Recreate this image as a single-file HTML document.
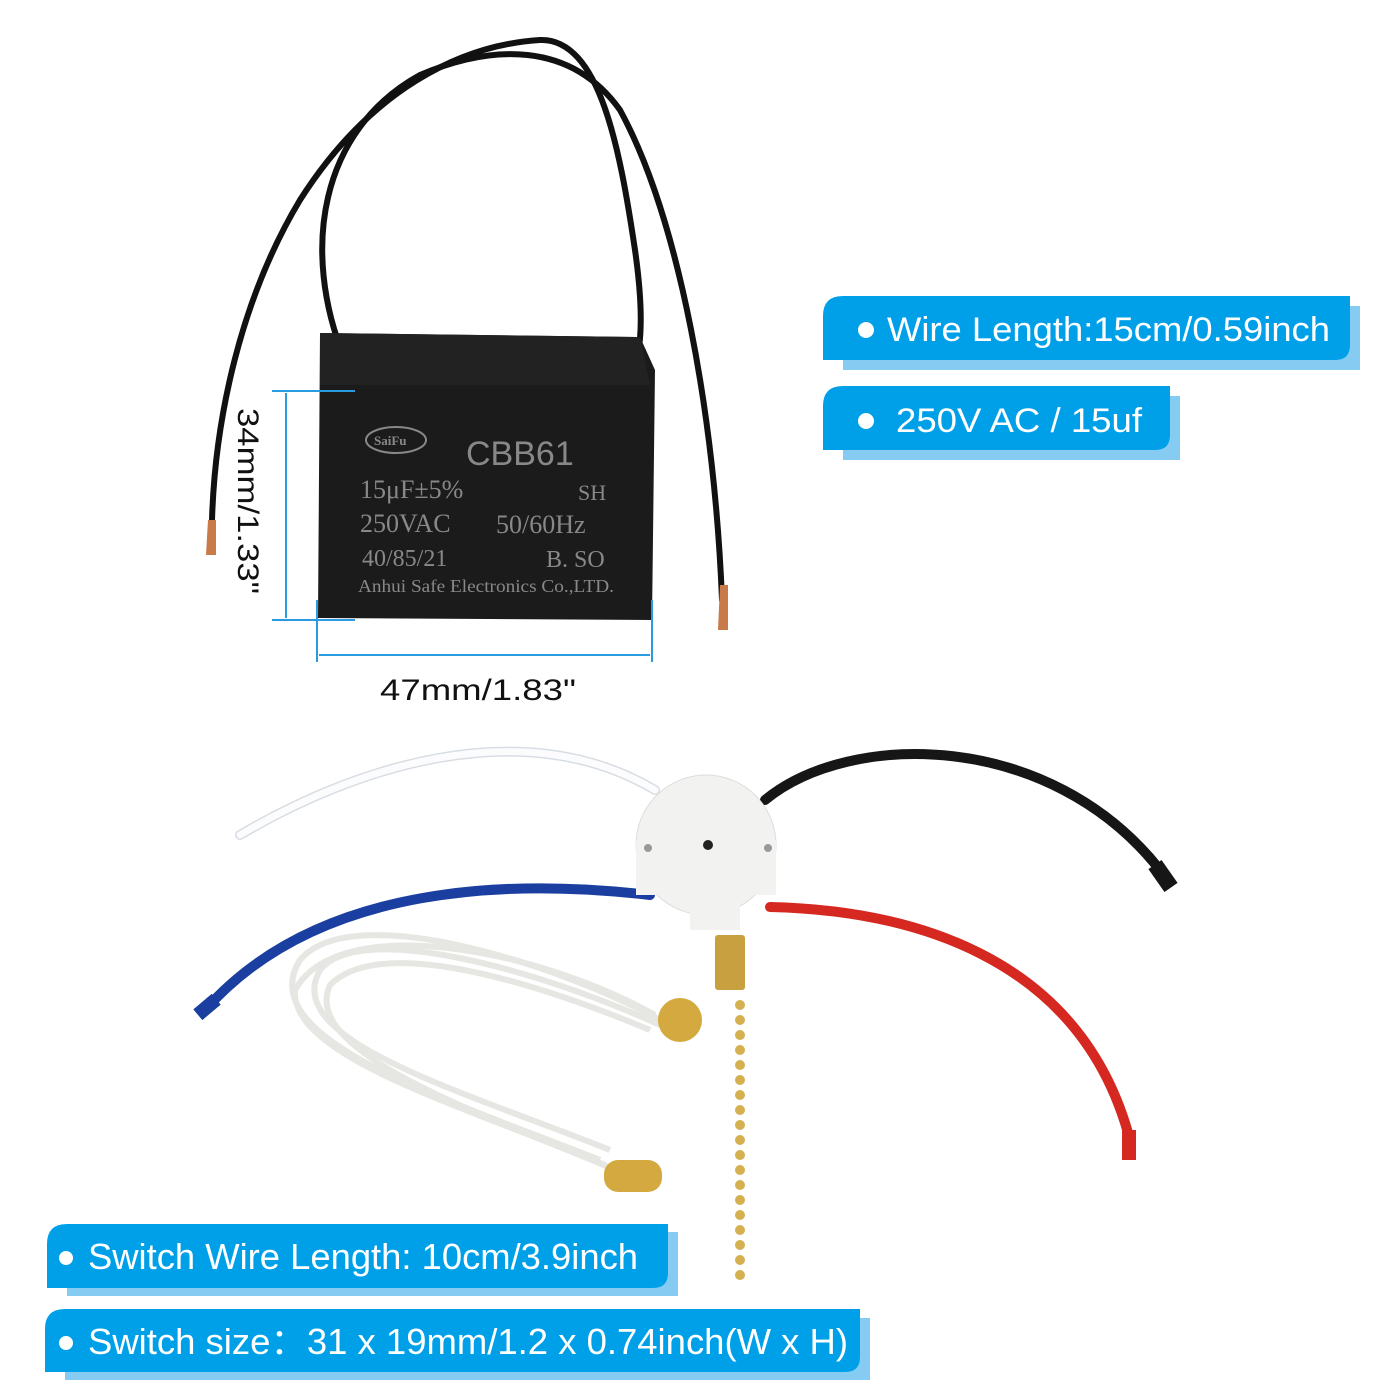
<!DOCTYPE html>
<html><head><style>html,body{margin:0;padding:0;background:#fff}svg{display:block}</style></head>
<body>
<svg width="1400" height="1400" viewBox="0 0 1400 1400" xmlns="http://www.w3.org/2000/svg" font-family="Liberation Sans, sans-serif">
<!-- capacitor wires -->
<g fill="none" stroke="#111" stroke-width="6" stroke-linecap="round">
<path d="M212 520 C215 420 240 300 300 200 C370 90 460 45 540 40 C600 38 620 150 635 250 C645 320 640 350 635 365"/>
<path d="M345 360 C300 250 320 130 420 75 C490 45 570 40 620 110 C680 220 715 420 722 600"/>
</g>
<path d="M208 520 l-2 35 l10 0 l0 -35z" fill="#c87a4a"/>
<path d="M720 585 l-2 45 l10 0 l0 -45z" fill="#c87a4a"/>
<!-- capacitor body -->
<path d="M320 333 L640 337 L655 370 L652 620 L318 618 Z" fill="#1b1b1b"/>
<path d="M320 333 L640 337 L650 385 L320 385 Z" fill="#222"/>
<g fill="#888" font-family="Liberation Serif, serif">
<ellipse cx="396" cy="440" rx="30" ry="13" fill="none" stroke="#888" stroke-width="2"/>
<text x="374" y="445" font-size="13" font-weight="bold">SaiFu</text>
<text x="466" y="465" font-size="34" font-family="Liberation Sans, sans-serif">CBB61</text>
<text x="360" y="498" font-size="26">15μF±5%</text><text x="578" y="500" font-size="22">SH</text>
<text x="360" y="532" font-size="26">250VAC</text><text x="496" y="533" font-size="26">50/60Hz</text>
<text x="362" y="566" font-size="24">40/85/21</text><text x="546" y="567" font-size="24">B. SO</text>
<text x="358" y="592" font-size="18" textLength="256" lengthAdjust="spacingAndGlyphs">Anhui Safe Electronics Co.,LTD.</text>
</g>
<!-- dimensions -->
<g stroke="#2a9be0" stroke-width="2" fill="none">
<line x1="272" y1="391" x2="355" y2="391"/><line x1="272" y1="620" x2="355" y2="620"/>
<line x1="286" y1="393" x2="286" y2="618"/>
<line x1="317" y1="600" x2="317" y2="662"/><line x1="652" y1="600" x2="652" y2="662"/>
<line x1="319" y1="655" x2="650" y2="655"/>
</g>
<text x="380" y="700" font-size="30" fill="#111" textLength="196" lengthAdjust="spacingAndGlyphs">47mm/1.83"</text>
<text x="0" y="0" font-size="30" fill="#111" transform="translate(238 408) rotate(90)" textLength="186" lengthAdjust="spacingAndGlyphs">34mm/1.33"</text>
<!-- switch wires -->
<g fill="none" stroke-linecap="round" stroke-width="10">
<path d="M240 835 C350 770 520 710 655 790" stroke="#d8dde4"/>
<path d="M240 835 C350 770 520 710 655 790" stroke="#fcfcff" stroke-width="7"/>
<path d="M765 800 C850 730 1050 730 1160 870" stroke="#161616"/>
<path d="M205 1010 C320 880 520 880 650 895" stroke="#1b3fa0"/>
<path d="M770 907 C900 910 1080 950 1130 1140" stroke="#d42820"/>
</g>
<rect x="1155" y="862" width="16" height="28" fill="#161616" transform="rotate(-35 1163 876)"/>
<rect x="1122" y="1130" width="14" height="30" fill="#d42820"/>
<rect x="200" y="995" width="14" height="24" fill="#1b3fa0" transform="rotate(50 207 1007)"/>
<!-- switch body -->
<circle cx="706" cy="845" r="70" fill="#f2f2f0" stroke="#ddd"/>
<rect x="636" y="840" width="140" height="55" fill="#f2f2f0"/>
<rect x="690" y="880" width="50" height="50" fill="#f2f2f0"/>
<circle cx="708" cy="845" r="5" fill="#222"/>
<circle cx="648" cy="848" r="4" fill="#999"/><circle cx="768" cy="848" r="4" fill="#999"/>
<rect x="715" y="935" width="30" height="55" rx="3" fill="#c8a040"/>
<g fill="#d4b050"><circle cx="740" cy="1005" r="5"/><circle cx="740" cy="1020" r="5"/><circle cx="740" cy="1035" r="5"/><circle cx="740" cy="1050" r="5"/><circle cx="740" cy="1065" r="5"/><circle cx="740" cy="1080" r="5"/><circle cx="740" cy="1095" r="5"/><circle cx="740" cy="1110" r="5"/><circle cx="740" cy="1125" r="5"/><circle cx="740" cy="1140" r="5"/><circle cx="740" cy="1155" r="5"/><circle cx="740" cy="1170" r="5"/><circle cx="740" cy="1185" r="5"/><circle cx="740" cy="1200" r="5"/><circle cx="740" cy="1215" r="5"/><circle cx="740" cy="1230" r="5"/><circle cx="740" cy="1245" r="5"/><circle cx="740" cy="1260" r="5"/><circle cx="740" cy="1275" r="5"/></g>
<!-- cord -->
<g fill="none" stroke="#e6e6e2" stroke-width="6">
<path d="M660 1020 C550 960 350 900 300 960 C250 1040 450 1100 600 1160"/>
<path d="M660 1025 C540 970 360 920 320 970 C280 1040 460 1090 610 1150"/>
<path d="M655 1015 C540 950 340 910 295 990 C290 1060 480 1110 615 1170"/>
<path d="M650 1030 C530 980 380 935 330 985 C300 1050 470 1110 605 1165"/>
</g>
<circle cx="680" cy="1020" r="22" fill="#d4aa40"/>
<rect x="604" y="1160" width="58" height="32" rx="14" fill="#d4aa40"/>
<!-- label boxes -->
<g>
<path d="M843 306 H1360 V370 H843 Z" fill="#86ccf2"/>
<path d="M843 296 H1350 V345 Q1350 360 1335 360 H823 V316 Q823 296 843 296 Z" fill="#00a0e9"/>
<circle cx="866" cy="330" r="8" fill="#fff"/>
<text x="887" y="341" font-size="34" fill="#fff" textLength="443" lengthAdjust="spacingAndGlyphs">Wire Length:15cm/0.59inch</text>
<path d="M843 396 H1180 V460 H843 Z" fill="#86ccf2"/>
<path d="M843 386 H1170 V435 Q1170 450 1155 450 H823 V406 Q823 386 843 386 Z" fill="#00a0e9"/>
<circle cx="866" cy="421" r="8" fill="#fff"/>
<text x="896" y="432" font-size="34" fill="#fff" textLength="246" lengthAdjust="spacingAndGlyphs">250V AC / 15uf</text>
<path d="M67 1232 H678 V1296 H67 Z" fill="#86ccf2"/>
<path d="M67 1224 H668 V1273 Q668 1288 653 1288 H47 V1244 Q47 1224 67 1224 Z" fill="#00a0e9"/>
<circle cx="66" cy="1258" r="7" fill="#fff"/>
<text x="88" y="1269" font-size="36" fill="#fff" textLength="550" lengthAdjust="spacingAndGlyphs">Switch Wire Length: 10cm/3.9inch</text>
<path d="M65 1318 H870 V1380 H65 Z" fill="#86ccf2"/>
<path d="M65 1309 H860 V1357 Q860 1372 845 1372 H45 V1329 Q45 1309 65 1309 Z" fill="#00a0e9"/>
<circle cx="66" cy="1343" r="7" fill="#fff"/>
<text x="88" y="1354" font-size="36" fill="#fff" textLength="760" lengthAdjust="spacingAndGlyphs">Switch size：31 x 19mm/1.2 x 0.74inch(W x H)</text>
</g>
</svg>
</body></html>
